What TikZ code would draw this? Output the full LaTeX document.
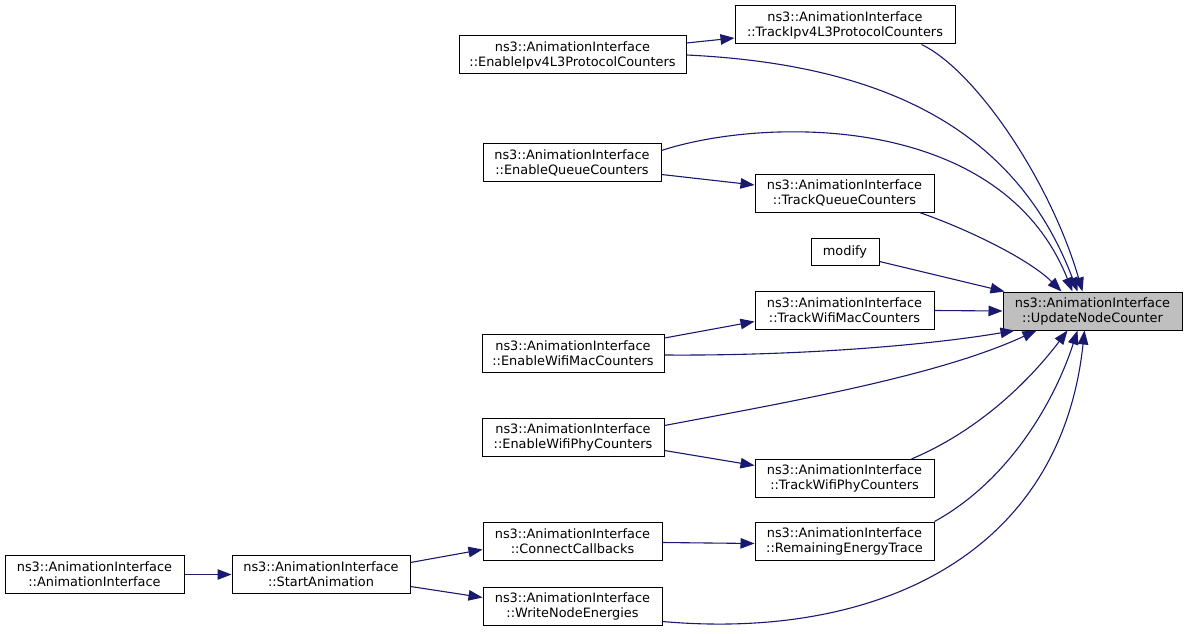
\documentclass[tikz,border=0pt]{standalone}
\usepackage{fontspec}
\setmainfont{DejaVu Sans}
\usetikzlibrary{arrows.meta}
\definecolor{edgecol}{HTML}{191970}
\begin{document}
\begin{tikzpicture}[x=1pt,y=-1pt,
  box/.style={draw=black,line width=1pt,fill=white,minimum height=38pt,inner sep=0pt,align=center,font=\fontsize{12.9}{15}\selectfont},
  rootbox/.style={box,fill=black!25},
  edge/.style={draw=edgecol,line width=1.1pt,-{Triangle[length=14pt,width=10.5pt]}}]
\useasboundingbox (0,0) rectangle (1187,634);
\fill[white] (0,0) rectangle (1187,634);
% nodes
\node[rootbox,minimum width=179pt] (upd) at (1092.5,311) {ns3::AnimationInterface\\::UpdateNodeCounter};
\node[box,minimum width=220pt] (ti4) at (845,25) {ns3::AnimationInterface\\::TrackIpv4L3ProtocolCounters};
\node[box,minimum width=227pt] (ei4) at (572.5,55) {ns3::AnimationInterface\\::EnableIpv4L3ProtocolCounters};
\node[box,minimum width=178pt] (eq) at (572,162.5) {ns3::AnimationInterface\\::EnableQueueCounters};
\node[box,minimum width=179pt] (tq) at (844.5,193) {ns3::AnimationInterface\\::TrackQueueCounters};
\node[box,minimum width=68pt,minimum height=27pt] (mod) at (845,251.5) {modify};
\node[box,minimum width=179pt] (tm) at (844.5,310.5) {ns3::AnimationInterface\\::TrackWifiMacCounters};
\node[box,minimum width=182pt] (em) at (573,353) {ns3::AnimationInterface\\::EnableWifiMacCounters};
\node[box,minimum width=182pt] (ep) at (573,437.5) {ns3::AnimationInterface\\::EnableWifiPhyCounters};
\node[box,minimum width=179pt] (tp) at (844.5,478.5) {ns3::AnimationInterface\\::TrackWifiPhyCounters};
\node[box,minimum width=179pt] (cc) at (572.5,541.5) {ns3::AnimationInterface\\::ConnectCallbacks};
\node[box,minimum width=179pt] (re) at (844.5,541.5) {ns3::AnimationInterface\\::RemainingEnergyTrace};
\node[box,minimum width=179pt] (ai) at (94.5,574.5) {ns3::AnimationInterface\\::AnimationInterface};
\node[box,minimum width=178pt] (sa) at (321,574.5) {ns3::AnimationInterface\\::StartAnimation};
\node[box,minimum width=179pt] (wn) at (572.5,606.5) {ns3::AnimationInterface\\::WriteNodeEnergies};
% edges
\draw[edge] ([shift={(0,-12)}]ei4.east) -- ([shift={(0,13)}]ti4.west);
\draw[edge] ([shift={(187,0)}]ti4.south west) .. controls (975,70) and (1050,180) .. ([shift={(80,0)}]upd.north west);
\draw[edge] ([shift={(0,0)}]ei4.east) .. controls (900,65) and (1020,140) .. ([shift={(75,0)}]upd.north west);
\draw[edge] ([shift={(0,-12)}]eq.east) .. controls (760,118) and (1000,110) .. ([shift={(70,0)}]upd.north west);
\draw[edge] ([shift={(0,12)}]eq.east) -- ([shift={(0,-8)}]tq.west);
\draw[edge] ([shift={(165,0)}]tq.south west) .. controls (970,230) and (1030,260) .. ([shift={(59,0)}]upd.north west);
\draw[edge] ([shift={(0,10)}]mod.east) -- ([shift={(2,0)}]upd.north west);
\draw[edge] (tm.east) -- (upd.west);
\draw[edge] ([shift={(0,-15)}]em.east) -- ([shift={(0,11)}]tm.west);
\draw[edge] ([shift={(0,2)}]em.east) .. controls (800,356) and (930,345) .. ([shift={(12,0)}]upd.south west);
\draw[edge] ([shift={(0,-12)}]ep.east) .. controls (800,400) and (940,375) .. ([shift={(34,0)}]upd.south west);
\draw[edge] ([shift={(0,13)}]ep.east) -- ([shift={(0,-13)}]tp.west);
\draw[edge] ([shift={(157,0)}]tp.north west) .. controls (980,430) and (1030,380) .. ([shift={(65,0)}]upd.south west);
\draw[edge] ([shift={(0,-20)}]re.east) .. controls (1010,480) and (1055,400) .. ([shift={(75,0)}]upd.south west);
\draw[edge] ([shift={(0,15)}]wn.east) .. controls (870,640) and (1060,560) .. ([shift={(82,0)}]upd.south west);
\draw[edge] ([shift={(0,1)}]cc.east) -- ([shift={(0,2)}]re.west);
\draw[edge] ([shift={(0,-12)}]sa.east) -- ([shift={(0,8)}]cc.west);
\draw[edge] ([shift={(0,12)}]sa.east) -- ([shift={(0,-9)}]wn.west);
\draw[edge] (ai.east) -- (sa.west);
\end{tikzpicture}
\end{document}
